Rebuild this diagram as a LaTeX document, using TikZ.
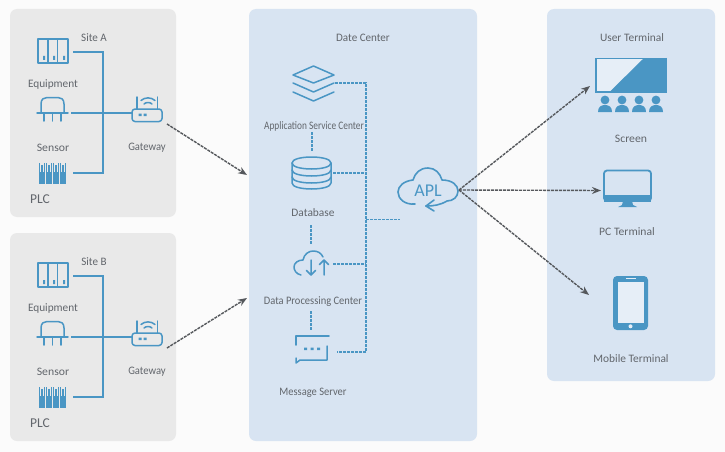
\documentclass[tikz,border=0pt]{standalone}
\usepackage{graphicx}
\usepackage{fontspec}
\setmainfont{Carlito}
\usetikzlibrary{arrows.meta}
\definecolor{pagebg}{HTML}{FBFBFB}
\definecolor{graypanel}{HTML}{E9E9E9}
\definecolor{bluepanel}{HTML}{D8E4F2}
\definecolor{iconblue}{HTML}{4A96C4}
\definecolor{lightfill}{HTML}{E6EEF7}
\definecolor{txt}{HTML}{62666C}
\definecolor{arrowgray}{HTML}{55585C}
\newcommand{\sx}[2]{\scalebox{#1}[1]{#2}}
\tikzset{
  x=1pt,y=-1pt,
  panelbox/.style={rounded corners=7pt,line width=0pt},
  lbl/.style={text=txt,font=\fontsize{11.4}{12}\selectfont,inner sep=0pt,anchor=center},
  lblbig/.style={text=txt,font=\fontsize{13.5}{14}\selectfont,inner sep=0pt,anchor=center},
  ico/.style={draw=iconblue,line width=1.5pt,line cap=round,line join=round},
  wire/.style={draw=iconblue,line width=1.8pt,line join=miter},
  dashwire/.style={draw=iconblue,line width=1.5pt,dash pattern=on 3pt off 1pt},
  flow/.style={draw=arrowgray,line width=1.4pt,dash pattern=on 3pt off 1pt,-{Stealth[length=9pt,width=7pt]}},
  anchorbox/.style={inner sep=0pt,outer sep=0pt,draw=none},
}
\newcommand{\sitegroup}[3]{%
\begin{scope}[yshift=#2]
  \fill[graypanel,panelbox] (10,9) rectangle (176,217);
  \node[lbl] (#1title) at (94,38) {\sx{.97}{#3}};
  \node[lbl] (#1eqlbl) at (53,84) {\sx{.99}{Equipment}};
  \node[lbl] (#1selbl) at (53,148) {\sx{1.03}{Sensor}};
  \node[lbl] (#1gwlbl) at (147,148) {\sx{.93}{Gateway}};
  \node[lblbig] (#1plclbl) at (40,199) {PLC};
  % nodes that hold the icons
  \node[anchorbox,minimum width=35pt,minimum height=24pt] (#1equip) at (55.5,52) {};
  \node[anchorbox,minimum width=35pt,minimum height=24pt] (#1sensor) at (54.5,113) {};
  \node[anchorbox,minimum width=31pt,minimum height=18pt] (#1gate) at (147.5,113) {};
  \node[anchorbox,minimum width=35pt,minimum height=22pt] (#1plc) at (55.5,173) {};
  \coordinate (#1bus) at (103,113);
  \coordinate (#1top) at (103,52);
  \coordinate (#1bot) at (103,173);
  % equipment icon
  \draw[ico] (38,39) rectangle (68,63);
  \draw[ico] (48,39) -- (48,63) (57.5,39) -- (57.5,63);
  \fill[iconblue] (43,56) rectangle (45,60) (53,56) rectangle (55,60) (63,56) rectangle (65,60);
  % sensor icon
  \draw[ico] (41,113) -- (41,104) .. controls (41,99) and (44,97.5) .. (47,97.5) -- (58,97.5) .. controls (61,97.5) and (64,99) .. (64,104) -- (64,113);
  \draw[ico] (37,113) -- (68,113);
  \draw[ico] (44,113) -- (44,121) (52.5,113) -- (52.5,121) (61,113) -- (61,121);
  % gateway icon
  \draw[ico,rounded corners=3pt] (132,109) rectangle (162,121.5);
  \draw[ico] (137,97) -- (137,109) (157.5,97) -- (157.5,109);
  \draw[ico] (141,100.5) .. controls (145,97) and (151,97) .. (155,100.5);
  \draw[ico] (144,104) .. controls (146,102) and (150,102) .. (152,104);
  \fill[iconblue] (138.5,113.5) rectangle (141.5,116) (143.5,113.5) rectangle (146.5,116);
  % plc icon
  \foreach \kx in {39,46,53,60}{
    \fill[iconblue] (\kx,172) rectangle ++(6,12);
    \draw[iconblue,line width=1.1pt] (\kx+0.7,163) -- (\kx+0.7,172) (\kx+3,165) -- (\kx+3,172) (\kx+5.3,163) -- (\kx+5.3,172);
  }
  % wires
  \draw[wire] ([xshift=0pt]#1equip.east) -- (#1top) -- (#1bus) -- (#1bot) -- (#1plc.east);
  \draw[wire] ([xshift=-1pt]#1sensor.east) -- (#1gate.west);
\end{scope}}
\begin{document}
\begin{tikzpicture}
\useasboundingbox (0,0) rectangle (725,452);
\fill[pagebg] (0,0) rectangle (725,452);
\sitegroup{a}{0pt}{Site A}
\sitegroup{b}{-224pt}{Site B}
% panels
\fill[bluepanel,panelbox] (249,9) rectangle (477,441);
\fill[bluepanel,panelbox] (547,9) rectangle (715,381);
% center labels
\node[lbl] (dc) at (363,38) {\sx{.97}{Date Center}};
\node[lbl] (aslbl) at (314,126) {\sx{.82}{Application Service Center}};
\node[lbl] (dblbl) at (313,213) {Database};
\node[lbl] (dplbl) at (313,302) {\sx{.92}{Data Processing Center}};
\node[lbl] (mslbl) at (313,393) {\sx{.92}{Message Server}};
% right labels
\node[lbl] (utlbl) at (632,38) {User Terminal};
\node[lbl] (sclbl) at (631,139) {\sx{1.03}{Screen}};
\node[lbl] (pclbl) at (627,232) {\sx{1.02}{PC Terminal}};
\node[lbl] (mtlbl) at (631,359) {Mobile Terminal};
% holder nodes
\node[anchorbox,minimum width=41pt,minimum height=35pt] (layers) at (313.5,83.5) {};
\node[anchorbox,minimum width=40pt,minimum height=33pt] (db) at (312,173) {};
\node[anchorbox,minimum width=38pt,minimum height=26pt] (proc) at (312,264) {};
\node[anchorbox,minimum width=34pt,minimum height=28pt] (msg) at (312.5,352) {};
\node[anchorbox,minimum width=60pt,minimum height=44pt] (apl) at (428,190) {};
\node[anchorbox,minimum width=71pt,minimum height=56pt] (screen) at (631,85) {};
\node[anchorbox,minimum width=49pt,minimum height=38pt] (pc) at (627.5,188.5) {};
\node[anchorbox,minimum width=35pt,minimum height=54pt] (phone) at (630.5,303) {};
\coordinate (jas) at (366,83);
\coordinate (jdb) at (366,173);
\coordinate (japl) at (366,219.5);
\coordinate (jdp) at (366,264);
\coordinate (jms) at (366,352);
\coordinate (aplin) at (400,219.5);
\coordinate (inA) at (247,175);
\coordinate (inB) at (247,298);
\coordinate (upA) at (590,86);
\coordinate (midA) at (601,190.5);
\coordinate (loA) at (589,295);
\coordinate (outA) at (459,190);
\coordinate (vasTop) at (312,132);
\coordinate (vasBot) at (312,151);
\coordinate (vdbTop) at (311,225);
\coordinate (vdbBot) at (311,244);
\coordinate (vdpTop) at (311,311);
\coordinate (vdpBot) at (311,331);
% layers icon
\draw[ico] (313.5,66) -- (334,75) -- (313.5,83) -- (293,75) -- cycle;
\draw[ico] (293,83) -- (313.5,92) -- (334,83);
\draw[ico] (293,92) -- (313.5,101) -- (334,92);
% database icon
\draw[ico] (292,163) .. controls (292,155) and (331,155) .. (331,163) .. controls (331,171) and (292,171) .. (292,163);
\draw[ico] (292,163) -- (292,183) .. controls (292,191) and (331,191) .. (331,183) -- (331,163);
\draw[ico] (292,170) .. controls (292,178) and (331,178) .. (331,170);
\draw[ico] (292,177) .. controls (292,185) and (331,185) .. (331,177);
% processing cloud icon
\draw[ico] (301,275) .. controls (296,274) and (294,270) .. (294,267) .. controls (294,263) and (298,260) .. (303,260) .. controls (304,254) and (309,251) .. (313,251) .. controls (318,251) and (321,253) .. (323,257);
\draw[ico] (311,260) -- (311,275) (306.5,270.5) -- (311,275) -- (315.5,270.5);
\draw[ico] (324,275) -- (324,260) (319.5,264.5) -- (324,260) -- (328.5,264.5);
% message icon
\draw[ico] (296,345) -- (296,336) -- (329,336);
\draw[ico] (327,346) -- (327,360) -- (300,360) -- (296,363) -- (296,358);
\fill[iconblue] (304,347.5) rectangle (307,350) (310.5,347.5) rectangle (313.5,350) (317,347.5) rectangle (320,350);
% APL cloud
\draw[ico,line width=1.6pt] (415,204) .. controls (405,205) and (398,199) .. (398,192) .. controls (398,186) and (404,181) .. (413,180) .. controls (415,173) and (420,168) .. (428,168) .. controls (435,168) and (440,173) .. (442,180) .. controls (452,180) and (458,185) .. (458,191) .. controls (458,197) and (453,201) .. (447,201) .. controls (440,205) and (434,206) .. (426,206);
\draw[ico,line width=1.6pt] (434,200) -- (426,206) -- (434,211);
\node[text=iconblue,font=\fontsize{18}{20}\selectfont,inner sep=0pt] (apltext) at (428,190.5) {APL};
% screen icon
\draw[iconblue,fill=lightfill,line width=1.5pt] (596,58.5) rectangle (666,92);
\fill[iconblue] (643,59) -- (666,58) -- (666,92.5) -- (609,92.5) -- cycle;
\foreach \px in {605,622,639,656}{
  \fill[iconblue] (\px,100) circle [radius=4.4];
  \fill[iconblue] (\px-7,112) .. controls (\px-7,107) and (\px-4,105) .. (\px,105) .. controls (\px+4,105) and (\px+7,107) .. (\px+7,112) -- cycle;
}
% pc icon
\draw[ico,rounded corners=3pt,line width=1.8pt] (604,170.5) rectangle (651,201);
\fill[iconblue] (604,195) rectangle (651,201.5);
\fill[iconblue] (623,201) -- (632,201) -- (633,205) -- (637,207) -- (618,207) -- (622,205) -- cycle;
% phone icon
\fill[iconblue,rounded corners=4pt] (613,276) rectangle (648,330);
\fill[lightfill] (618,282) rectangle (644,322.5);
\fill[lightfill] (626,278) rectangle (636,279.2);
\fill[lightfill] (630.5,326.3) circle [radius=2];
% dashed blue network
\draw[dashwire] ([xshift=1pt]layers.east |- jas) -- (jas) -- (jms) -- ([xshift=7pt]msg.east);
\draw[dashwire] ([xshift=1pt]db.east) -- (jdb);
\draw[dashwire] (japl) -- (aplin);
\draw[dashwire] ([xshift=2pt]proc.east) -- (jdp);
\draw[dashwire] (vasTop) -- (vasBot);
\draw[dashwire] (vdbTop) -- (vdbBot);
\draw[dashwire] (vdpTop) -- (vdpBot);
% flow arrows
\draw[flow] ([xshift=4pt,yshift=-2pt]agate.south east) -- (inA);
\draw[flow] ([xshift=4pt,yshift=-2pt]bgate.south east) -- (inB);
\draw[flow] (outA) -- (upA);
\draw[flow] (outA) -- (midA);
\draw[flow] (outA) -- (loA);
\end{tikzpicture}
\end{document}
